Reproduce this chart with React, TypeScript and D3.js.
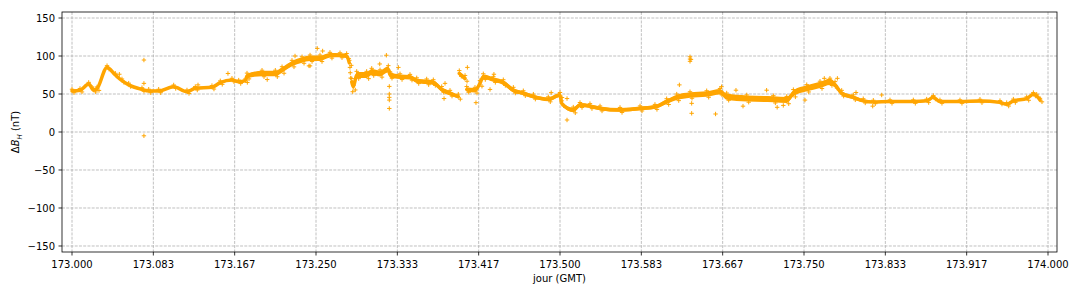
import React from "react";
import * as d3 from "d3";

// Main trace: day (GMT) and ΔB_H (nT); NaN marks a break in the trace
const days = [
  173.0, 173.0082, 173.0171, 173.0222, 173.0256, 173.0359, 173.0444, 173.0512, 173.0581, 173.0717,
  173.0786, 173.0888, 173.1042, 173.1178, 173.1263, 173.1434, 173.1519, 173.1639, 173.1708, 173.1776,
  173.1793, 173.1947, 173.2083, 173.2152, 173.2254, 173.2357, 173.2439, 173.2541, 173.2643, 173.2746,
  173.2814, 173.2841, 173.2853, 173.2866, 173.2882, 173.2917, 173.3019, 173.3071, 173.3156, 173.3241, 173.3258,
  173.3361, 173.3463, 173.3532, 173.3634, 173.3702, 173.3788, 173.3873, 173.3958, 173.3963, 173.3968,
  173.4027, 173.4035, 173.4044, 173.4129, 173.418, 173.4214, 173.4317, 173.4419, 173.4522, 173.4624,
  173.4727, 173.488, 173.5, 173.5017, 173.5136, 173.5205, 173.5307, 173.541, 173.5615, 173.582,
  173.5973, 173.6093, 173.6196, 173.6332, 173.6503, 173.6639, 173.6708, 173.6913, 173.7186, 173.7323,
  173.7391, 173.7528, 173.7664, 173.7766, 173.7818, 173.7886, 173.8005, 173.8107, 173.821, 173.8381,
  173.862, 173.8757, 173.8825, 173.8893, 173.9098, 173.9303, 173.9508, 173.9577, 173.9645, 173.9782,
  173.985, 173.9884, 173.9918,
];
const dBH = [
  54, 55, 63, 55, 57, 85, 75, 67.5, 62, 56,
  54, 54, 59.6, 53, 57.5, 58.8, 65, 68.4, 66, 67.5,
  73.7, 77, 77, 81.6, 90, 94.7, 97, 97, 101, 101,
  100, 91, NaN, 66, 59.6, 75, 75, 79, 77, 82.5, 75,
  72.8, 72, 67.5, 66, 65, 56, 51, 46.5, NaN, 77,
  70.6, NaN, 56, 55, 64, 72.8, 69, 65, 55, 51,
  46.5, 43, 48.7, 37.7, 29, 35.5, 34, 31, 29, 31,
  33, 40, 45.6, 48.7, 50, 53, 46.5, 44, 43, 42,
  51, 57.5, 62, 66, 62, 51, 45.6, 41, 39.5, 40,
  40, 41, 45.6, 40, 40, 40.8, 39, 36.4, 41, 44,
  49.6, 47.4, 42,
];
// Half-width of the dense band of points (nT)
const spread = [
  1.5, 1.5, 1.5, 1.5, 1.5, 1.5, 1.5, 1.5, 1.5, 1.5,
  1.5, 1.5, 1.5, 1.5, 1.5, 1.5, 1.5, 1.5, 1.5, 1.5,
  3, 3.5, 3.5, 3.5, 3.5, 3.5, 3.5, 3.5, 3, 2.5,
  2.5, 2.5, 0, 3.5, 3.5, 4, 4, 4, 4, 4, 3.5,
  3, 3, 3, 3, 3, 3, 3, 2.5, 0, 3,
  3, 0, 3, 3, 3, 3, 3, 3, 3, 2.5,
  2.5, 2.5, 2.5, 2.5, 3, 2.5, 2.5, 2.5, 2.5, 2.5,
  2.5, 3, 3.5, 3.5, 3.5, 3.5, 4, 4, 4, 4,
  4, 4, 4, 4, 3.5, 3, 2.5, 2, 1.5, 1.5,
  1.5, 1.5, 1.5, 1.5, 1.5, 1.5, 1.5, 1.5, 1.5, 1.5,
  1.5, 1.5, 1.5,
];

// Isolated points away from the main band
const outlierDays = [
  173.0737, 173.0737, 173.0737, 173.0485, 173.1598, 173.1291, 173.2285, 173.2428, 173.2000, 173.2513,
  173.2568, 173.2439, 173.3221, 173.3153, 173.3251, 173.3251, 173.3251, 173.3251, 173.3251, 173.3344,
  173.2876, 173.3822, 173.3812, 173.4051, 173.4139, 173.4323, 173.4283, 173.5072, 173.4910, 173.5072,
  173.6332, 173.6332, 173.6332, 173.6342, 173.6223, 173.6349, 173.6349, 173.6655, 173.6803, 173.6875,
  173.7117, 173.7225, 173.6594, 173.7510, 173.7288, 173.7708, 173.7842, 173.8033, 173.8296, 173.8204,
  173.2848, 173.2851, 173.2855,
];
const outlierValues = [
  94.7, 64, -5, 76, 77, 62, 100, 87, 69, 110,
  106.6, 87, 101, 89.5, 60, 50, 45.6, 42, 31, 85,
  53, 64, 44, 85, 38.6, 76, 56, 44, 51.8, 15.8,
  93, 96, 99, 95.5, 62, 24.6, 37.7, 59.6, 55, 34,
  55, 32.5, 23.7, 42, 35, 70.6, 70.6, 52, 48.7, 34,
  85, 78, 71,
];

const yTicks = [-150, -100, -50, 0, 50, 100, 150];
const xTicks = [173.0, 173.083333, 173.166667, 173.25, 173.333333, 173.416667, 173.5, 173.583333, 173.666667, 173.75, 173.833333, 173.916667, 174.0];

const W = 1080;
const H = 295;
const M = { left: 62, right: 1057, top: 12, bottom: 252 };
const ORANGE = "#ffa500";
const FONT = "'DejaVu Sans', sans-serif";

export default function App() {
  const x = d3.scaleLinear().domain([172.98975, 174.00922]).range([M.left, M.right]);
  const y = d3.scaleLinear().domain([-157.9, 157.9]).range([M.bottom, M.top]);

  const pts = days.map((d, i) => ({ d, v: dBH[i], s: spread[i] }));
  const defined = (p: { v: number }) => !Number.isNaN(p.v);

  const area = d3
    .area<{ d: number; v: number; s: number }>()
    .defined(defined)
    .x((p) => x(p.d))
    .y0((p) => y(p.v - p.s))
    .y1((p) => y(p.v + p.s))
    .curve(d3.curveMonotoneX);
  const line = d3
    .line<{ d: number; v: number; s: number }>()
    .defined(defined)
    .x((p) => x(p.d))
    .y((p) => y(p.v))
    .curve(d3.curveMonotoneX);

  const plus = (cx: number, cy: number, k: string) => (
    <path
      key={k}
      d={`M${cx - 2.2},${cy}H${cx + 2.2}M${cx},${cy - 2.2}V${cy + 2.2}`}
      stroke={ORANGE}
      strokeWidth={1}
      fill="none"
    />
  );

  const shown = pts.filter(defined);

  return (
    <svg
      width={W}
      height={H}
      style={{ position: "fixed", left: 0, top: 0, background: "#fff" }}
      fontFamily={FONT}
    >
      <rect x={0} y={0} width={W} height={H} fill="#fff" />
      <defs>
        <clipPath id="plotclip">
          <rect x={M.left} y={M.top} width={M.right - M.left} height={M.bottom - M.top} />
        </clipPath>
      </defs>
      {/* grid */}
      <g stroke="#b0b0b0" strokeWidth={0.8} strokeDasharray="2.96 1.28">
        {xTicks.map((t) => (
          <line key={"gx" + t} x1={x(t)} x2={x(t)} y1={M.top} y2={M.bottom} />
        ))}
        {yTicks.map((t) => (
          <line key={"gy" + t} x1={M.left} x2={M.right} y1={y(t)} y2={y(t)} />
        ))}
      </g>
      {/* data */}
      <g clipPath="url(#plotclip)">
        <path d={area(pts) || ""} fill={ORANGE} />
        <path d={line(pts) || ""} fill="none" stroke={ORANGE} strokeWidth={3.5} strokeLinejoin="round" strokeLinecap="round" />
        {shown.map((p, i) => plus(x(p.d), y(p.v + p.s + 0.8), "pu" + i))}
        {shown.map((p, i) => plus(x(p.d) + 2, y(p.v - p.s - 0.8), "pd" + i))}
        {outlierDays.map((d, i) => plus(x(d), y(outlierValues[i]), "o" + i))}
      </g>
      {/* frame */}
      <rect
        x={M.left}
        y={M.top}
        width={M.right - M.left}
        height={M.bottom - M.top}
        fill="none"
        stroke="#000"
        strokeWidth={0.8}
      />
      {/* axes */}
      <g fontSize={10} fill="#000">
        {xTicks.map((t) => (
          <g key={"xt" + t}>
            <line x1={x(t)} x2={x(t)} y1={M.bottom} y2={M.bottom + 3.5} stroke="#000" strokeWidth={0.8} />
            <text x={x(t)} y={M.bottom + 15.5} textAnchor="middle">
              {t.toFixed(3)}
            </text>
          </g>
        ))}
        {yTicks.map((t) => (
          <g key={"yt" + t}>
            <line x1={M.left - 3.5} x2={M.left} y1={y(t)} y2={y(t)} stroke="#000" strokeWidth={0.8} />
            <text x={M.left - 7} y={y(t)} dy="0.36em" textAnchor="end">
              {t < 0 ? "\u2212" + Math.abs(t) : String(t)}
            </text>
          </g>
        ))}
        <text x={(M.left + M.right) / 2} y={282} textAnchor="middle">
          jour (GMT)
        </text>
        <text transform={`translate(19, ${(M.top + M.bottom) / 2}) rotate(-90)`} textAnchor="middle">
          Δ<tspan fontStyle="italic">B</tspan>
          <tspan fontSize={7} fontStyle="italic" dy={2.5}>H</tspan>
          <tspan dy={-2.5}> (nT)</tspan>
        </text>
      </g>
    </svg>
  );
}
